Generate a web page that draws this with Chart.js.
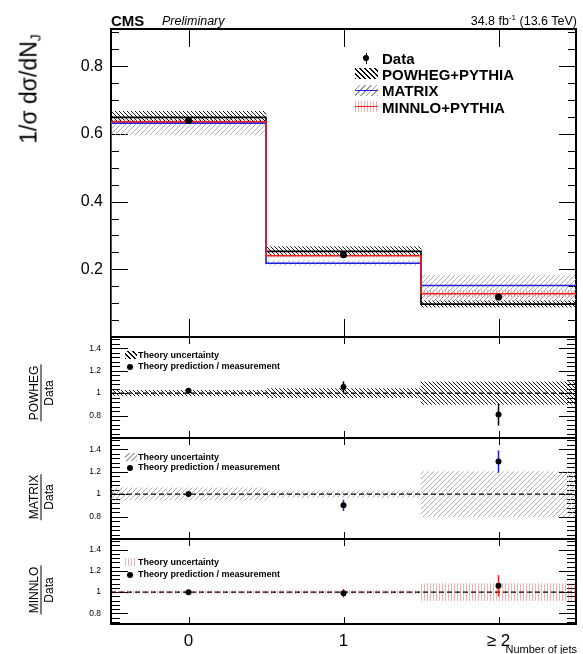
<!doctype html>
<html lang="en">
<head>
<meta charset="utf-8">
<title>Number of jets</title>
<script src="https://cdn.jsdelivr.net/npm/chart.js"></script>
<style>
  body { margin: 0; background: #fff; }
  #wrap { position: relative; width: 583px; height: 654px; overflow: hidden; font-family: "Liberation Sans", Arial, sans-serif; color: #000; }
  canvas { position: absolute; left: 0; }
  .t { position: absolute; white-space: nowrap; line-height: 1; transform: translateY(-50%); }
  .rot { position: absolute; white-space: nowrap; line-height: 1; transform: translate(-50%, -50%) rotate(-90deg); }
  .frac { text-align: center; font-size: 12px; }
  .frac span { display: block; }
  .frac .num { border-bottom: 1px solid #000; padding: 0 1px 1px; }
  .frac .den { padding-top: 1px; }
  .sw { position: absolute; }
  .lg { font-weight: bold; font-size: 15px; left: 382px; }
  .rl { font-weight: bold; font-size: 9px; left: 138px; }
  .dot { position: absolute; width: 6px; height: 6px; border-radius: 50%; background: #000; transform: translate(-50%, -50%); }
</style>
</head>
<body>
<div id="wrap">
  <!-- canvases overlap by 8px so that chart areas sit exactly on the panel frames -->
  <canvas id="cMain" width="583" height="345" style="top:0"></canvas>
  <canvas id="cPow" width="583" height="117" style="top:329px"></canvas>
  <canvas id="cMat" width="583" height="117" style="top:430px"></canvas>
  <canvas id="cMin" width="583" height="123" style="top:531px"></canvas>

  <div class="t" style="left:111px;top:20px;font-weight:bold;font-size:15px">CMS</div>
  <div class="t" style="left:162px;top:21px;font-style:italic;font-size:12.5px">Preliminary</div>
  <div class="t" style="right:6px;top:21px;font-size:12.5px">34.8 fb<sup style="font-size:8px">-1</sup> (13.6 TeV)</div>

  <div class="rot" style="left:30px;top:89px;font-size:23px">1/σ dσ/dN<sub style="font-size:14px;vertical-align:-4px">J</sub></div>

  <!-- main legend -->
  <div class="dot" style="left:366px;top:58px"></div>
  <div class="sw" style="left:365.5px;top:53px;width:1px;height:11px;background:#000"></div>
  <div class="t lg" style="top:58px">Data</div>
  <div class="sw" style="left:355px;top:68px;width:23px;height:11px;background:repeating-linear-gradient(45deg,#000 0 1px,transparent 1px 3.5px)"></div>
  <div class="t lg" style="top:73.5px">POWHEG+PYTHIA</div>
  <div class="sw" style="left:355px;top:85px;width:23px;height:11px;background:repeating-linear-gradient(-45deg,#999 0 1px,transparent 1px 4px)"></div>
  <div class="sw" style="left:355px;top:89.5px;width:23px;height:1.5px;background:#2020e0"></div>
  <div class="t lg" style="top:90px">MATRIX</div>
  <div class="sw" style="left:355px;top:101px;width:23px;height:11px;background:repeating-linear-gradient(90deg,rgba(235,110,110,0.55) 0 1px,transparent 1px 3px)"></div>
  <div class="sw" style="left:355px;top:105.5px;width:23px;height:1.5px;background:#f02020"></div>
  <div class="t lg" style="top:106.5px">MINNLO+PYTHIA</div>

  <!-- ratio legends -->
  <div class="sw" style="left:125px;top:351px;width:12px;height:8px;background:repeating-linear-gradient(45deg,#000 0 1px,transparent 1px 3.5px)"></div>
  <div class="t rl" style="top:355px">Theory uncertainty</div>
  <div class="dot" style="left:130px;top:367px"></div>
  <div class="t rl" style="top:366px">Theory prediction / measurement</div>

  <div class="sw" style="left:125px;top:453px;width:12px;height:8px;background:repeating-linear-gradient(-45deg,#aaa 0 1px,transparent 1px 3.5px)"></div>
  <div class="t rl" style="top:457px">Theory uncertainty</div>
  <div class="dot" style="left:130px;top:468px"></div>
  <div class="t rl" style="top:467px">Theory prediction / measurement</div>

  <div class="sw" style="left:125px;top:558px;width:12px;height:8px;background:repeating-linear-gradient(90deg,rgba(235,110,110,0.55) 0 1px,transparent 1px 3px)"></div>
  <div class="t rl" style="top:562px">Theory uncertainty</div>
  <div class="dot" style="left:130px;top:575px"></div>
  <div class="t rl" style="top:574px">Theory prediction / measurement</div>

  <div class="rot frac" style="left:41px;top:393px"><span class="num">POWHEG</span><span class="den">Data</span></div>
  <div class="rot frac" style="left:41px;top:497px"><span class="num">MATRIX</span><span class="den">Data</span></div>
  <div class="rot frac" style="left:41px;top:590px"><span class="num">MINNLO</span><span class="den">Data</span></div>

  <div class="t" style="right:6px;top:649px;font-size:11px">Number of jets</div>
</div>

<script>
// bins
const binCenters = [0, 1, 2];
const binEdges = [-0.5, 0.5, 1.5, 2.5];
const xTickLabels = ['0', '1', '≥ 2'];

// main panel, 1/sigma dsigma/dNj
const dataVals = [0.640, 0.243, 0.118];
const dataErr = [0.008, 0.008, 0.006];
const powhegVals = [0.649, 0.253, 0.097];
const powhegLo = [0.635, 0.240, 0.088];
const powhegHi = [0.667, 0.267, 0.107];
const matrixVals = [0.632, 0.218, 0.152];
const matrixLo = [0.597, 0.212, 0.105];
const matrixHi = [0.648, 0.225, 0.182];
const minnloVals = [0.636, 0.240, 0.128];
const minnloLo = [0.630, 0.236, 0.118];
const minnloHi = [0.642, 0.244, 0.138];
const mainYTicks = [0.2, 0.4, 0.6, 0.8];

// ratio panels, theory / data
const ratioYTicks = [0.8, 1, 1.2, 1.4];
const powhegRatio = [1.02, 1.055, 0.81];
const powhegRatioErr = [0.01, 0.05, 0.1];
const powhegRelUnc = [0.025, 0.04, 0.1];
const matrixRatio = [1.0, 0.9, 1.29];
const matrixRatioErr = [0.01, 0.05, 0.1];
const matrixRelUnc = [0.055, 0.03, 0.2];
const minnloRatio = [1.0, 0.99, 1.06];
const minnloRatioErr = [0.01, 0.04, 0.1];
const minnloRelUnc = [0.012, 0.015, 0.08];

const RED = '#f02020';
const BLUE = '#2020e0';
const FONT = '"Liberation Sans", Arial, sans-serif';
const P = 8; // canvas overlap

function hatch(kind, color, gap, lw) {
    const c = document.createElement('canvas');
    c.width = gap; c.height = gap;
    const g = c.getContext('2d');
    g.strokeStyle = color;
    g.lineWidth = lw;
    g.beginPath();
    if (kind === 'back') {
        for (const k of [-gap, 0, gap]) { g.moveTo(k, 0); g.lineTo(k + gap, gap); }
    } else if (kind === 'fwd') {
        for (const k of [-gap, 0, gap]) { g.moveTo(k + gap, 0); g.lineTo(k, gap); }
    } else {
        g.moveTo(gap / 2, 0); g.lineTo(gap / 2, gap);
    }
    g.stroke();
    return g.createPattern(c, 'repeat');
}
const blackHatch = hatch('back', '#000', 4, 0.9);
const grayHatch = hatch('fwd', '#9a9a9a', 5, 0.8);
const redHatch = hatch('vert', 'rgba(235,100,100,0.5)', 3, 1);

// histogram outline, starts from 0 at the left edge
function histPoints(vals) {
    const pts = [{x: binEdges[0], y: 0}];
    vals.forEach((v, i) => pts.push({x: binEdges[i], y: v}));
    pts.push({x: binEdges[vals.length], y: vals[vals.length - 1]});
    return pts;
}
function stepLine(vals, color) {
    return { type: 'line', data: histPoints(vals), stepped: true, borderColor: color,
             borderWidth: 1.6, pointRadius: 0, fill: false };
}
function band(lo, hi, pattern) {
    return { type: 'bar', data: binCenters.map((x, i) => ({x: x, y: [lo[i], hi[i]]})),
             backgroundColor: pattern, borderWidth: 0, grouped: false,
             barPercentage: 1, categoryPercentage: 1 };
}
function points(vals, errs, errColor, r) {
    return { type: 'scatter', data: binCenters.map((x, i) => ({x: x, y: vals[i]})),
             errors: errs, errorColor: errColor, pointRadius: r, backgroundColor: '#000',
             borderWidth: 0, showLine: false };
}
function unity() {
    return { type: 'line', data: [{x: binEdges[0], y: 1}, {x: binEdges[3], y: 1}],
             borderColor: '#000', borderWidth: 1.2, borderDash: [5, 3], pointRadius: 0, fill: false };
}

// error bars drawn just under each point set
const errorBars = {
    id: 'errorBars',
    beforeDatasetDraw(chart, args) {
        const ds = chart.data.datasets[args.index];
        if (!ds.errors) return;
        const y = chart.scales.y, ctx = chart.ctx;
        ctx.save();
        ctx.strokeStyle = ds.errorColor;
        ctx.lineWidth = 1.5;
        args.meta.data.forEach((pt, j) => {
            const v = ds.data[j].y, e = ds.errors[j];
            ctx.beginPath();
            ctx.moveTo(pt.x, y.getPixelForValue(v - e));
            ctx.lineTo(pt.x, y.getPixelForValue(v + e));
            ctx.stroke();
        });
        ctx.restore();
    }
};

// ROOT style frame with ticks inside
const rootFrame = {
    id: 'rootFrame',
    beforeDatasetsDraw(chart, args, o) {
        const {ctx, chartArea: a} = chart;
        const x = chart.scales.x, y = chart.scales.y;
        ctx.save();
        ctx.strokeStyle = '#000';
        ctx.lineWidth = 1;
        ctx.beginPath();
        const k0 = Math.ceil(y.min / o.minorStep - 1e-6), k1 = Math.floor(y.max / o.minorStep + 1e-6);
        for (let k = k0; k <= k1; k++) {
            const v = k * o.minorStep;
            const major = o.majors.some(m => Math.abs(m - v) < 1e-6);
            const len = major ? o.majorLen : o.minorLen;
            const py = Math.round(y.getPixelForValue(v)) + 0.5;
            ctx.moveTo(a.left, py); ctx.lineTo(a.left + len, py);
            ctx.moveTo(a.right, py); ctx.lineTo(a.right - len, py);
        }
        binCenters.forEach(v => {
            const px = Math.round(x.getPixelForValue(v)) + 0.5;
            ctx.moveTo(px, a.top); ctx.lineTo(px, a.top + o.xLen);
            ctx.moveTo(px, a.bottom); ctx.lineTo(px, a.bottom - o.xLen);
        });
        ctx.stroke();
        ctx.lineWidth = 2;
        ctx.strokeRect(a.left, a.top, a.right - a.left, a.bottom - a.top);
        ctx.restore();
    }
};

function makeOptions(yMin, yMax, yTicks, fontSize, pad, frame, showX, padTop, padBottom) {
    return {
        responsive: false,
        animation: false,
        layout: { padding: { top: padTop, right: 7, left: 0, bottom: padBottom } },
        plugins: { legend: { display: false }, tooltip: { enabled: false }, rootFrame: frame },
        scales: {
            x: {
                type: 'linear', min: -0.5, max: 2.5, offset: false, display: showX,
                grid: { display: false, drawTicks: false }, border: { display: false },
                afterBuildTicks: s => { s.ticks = binCenters.map(v => ({value: v})); },
                afterFit: s => { s.height = showX ? 30 : 0; s.paddingLeft = 0; s.paddingRight = 0; },
                ticks: { callback: (v, i) => xTickLabels[i], autoSkip: false, maxRotation: 0,
                         padding: 7, color: '#000', font: { family: FONT, size: 17 } }
            },
            y: {
                min: yMin, max: yMax,
                grid: { display: false, drawTicks: false }, border: { display: false },
                afterBuildTicks: s => { s.ticks = yTicks.map(v => ({value: v})); },
                afterFit: s => { s.width = 111; s.paddingTop = 0; s.paddingBottom = 0; },
                ticks: { callback: v => String(Number(v.toFixed(2))), autoSkip: false,
                         padding: pad, color: '#000', font: { family: FONT, size: fontSize } }
            }
        }
    };
}

const mainFrame = { majors: mainYTicks, minorStep: 0.05, majorLen: 17, minorLen: 8, xLen: 18 };
const ratioFrame = { majors: ratioYTicks, minorStep: 0.04, majorLen: 17, minorLen: 9, xLen: 7 };

new Chart(document.getElementById('cMain'), {
    type: 'bar',
    data: { datasets: [
        points(dataVals, dataErr, '#000', 3.5),
        stepLine(minnloVals, RED),
        stepLine(matrixVals, BLUE),
        stepLine(powhegVals, '#000'),
        band(minnloLo, minnloHi, redHatch),
        band(powhegLo, powhegHi, blackHatch),
        band(matrixLo, matrixHi, grayHatch)
    ] },
    options: makeOptions(0, 0.91, mainYTicks, 16, 8, mainFrame, false, 29, P),
    plugins: [rootFrame, errorBars]
});

function ratioChart(id, vals, errs, unc, pattern, errColor, yMin, showX) {
    return new Chart(document.getElementById(id), {
        type: 'bar',
        data: { datasets: [
            points(vals, errs, errColor, 3),
            unity(),
            band(unc.map(u => 1 - u), unc.map(u => 1 + u), pattern)
        ] },
        options: makeOptions(yMin, 1.5, ratioYTicks, 8.5, 10, ratioFrame, showX, P, showX ? 0 : P),
        plugins: [rootFrame, errorBars]
    });
}

ratioChart('cPow', powhegRatio, powhegRatioErr, powhegRelUnc, blackHatch, '#000', 0.6, false);
ratioChart('cMat', matrixRatio, matrixRatioErr, matrixRelUnc, grayHatch, BLUE, 0.6, false);
ratioChart('cMin', minnloRatio, minnloRatioErr, minnloRelUnc, redHatch, RED, 0.7, true);
</script>
</body>
</html>
